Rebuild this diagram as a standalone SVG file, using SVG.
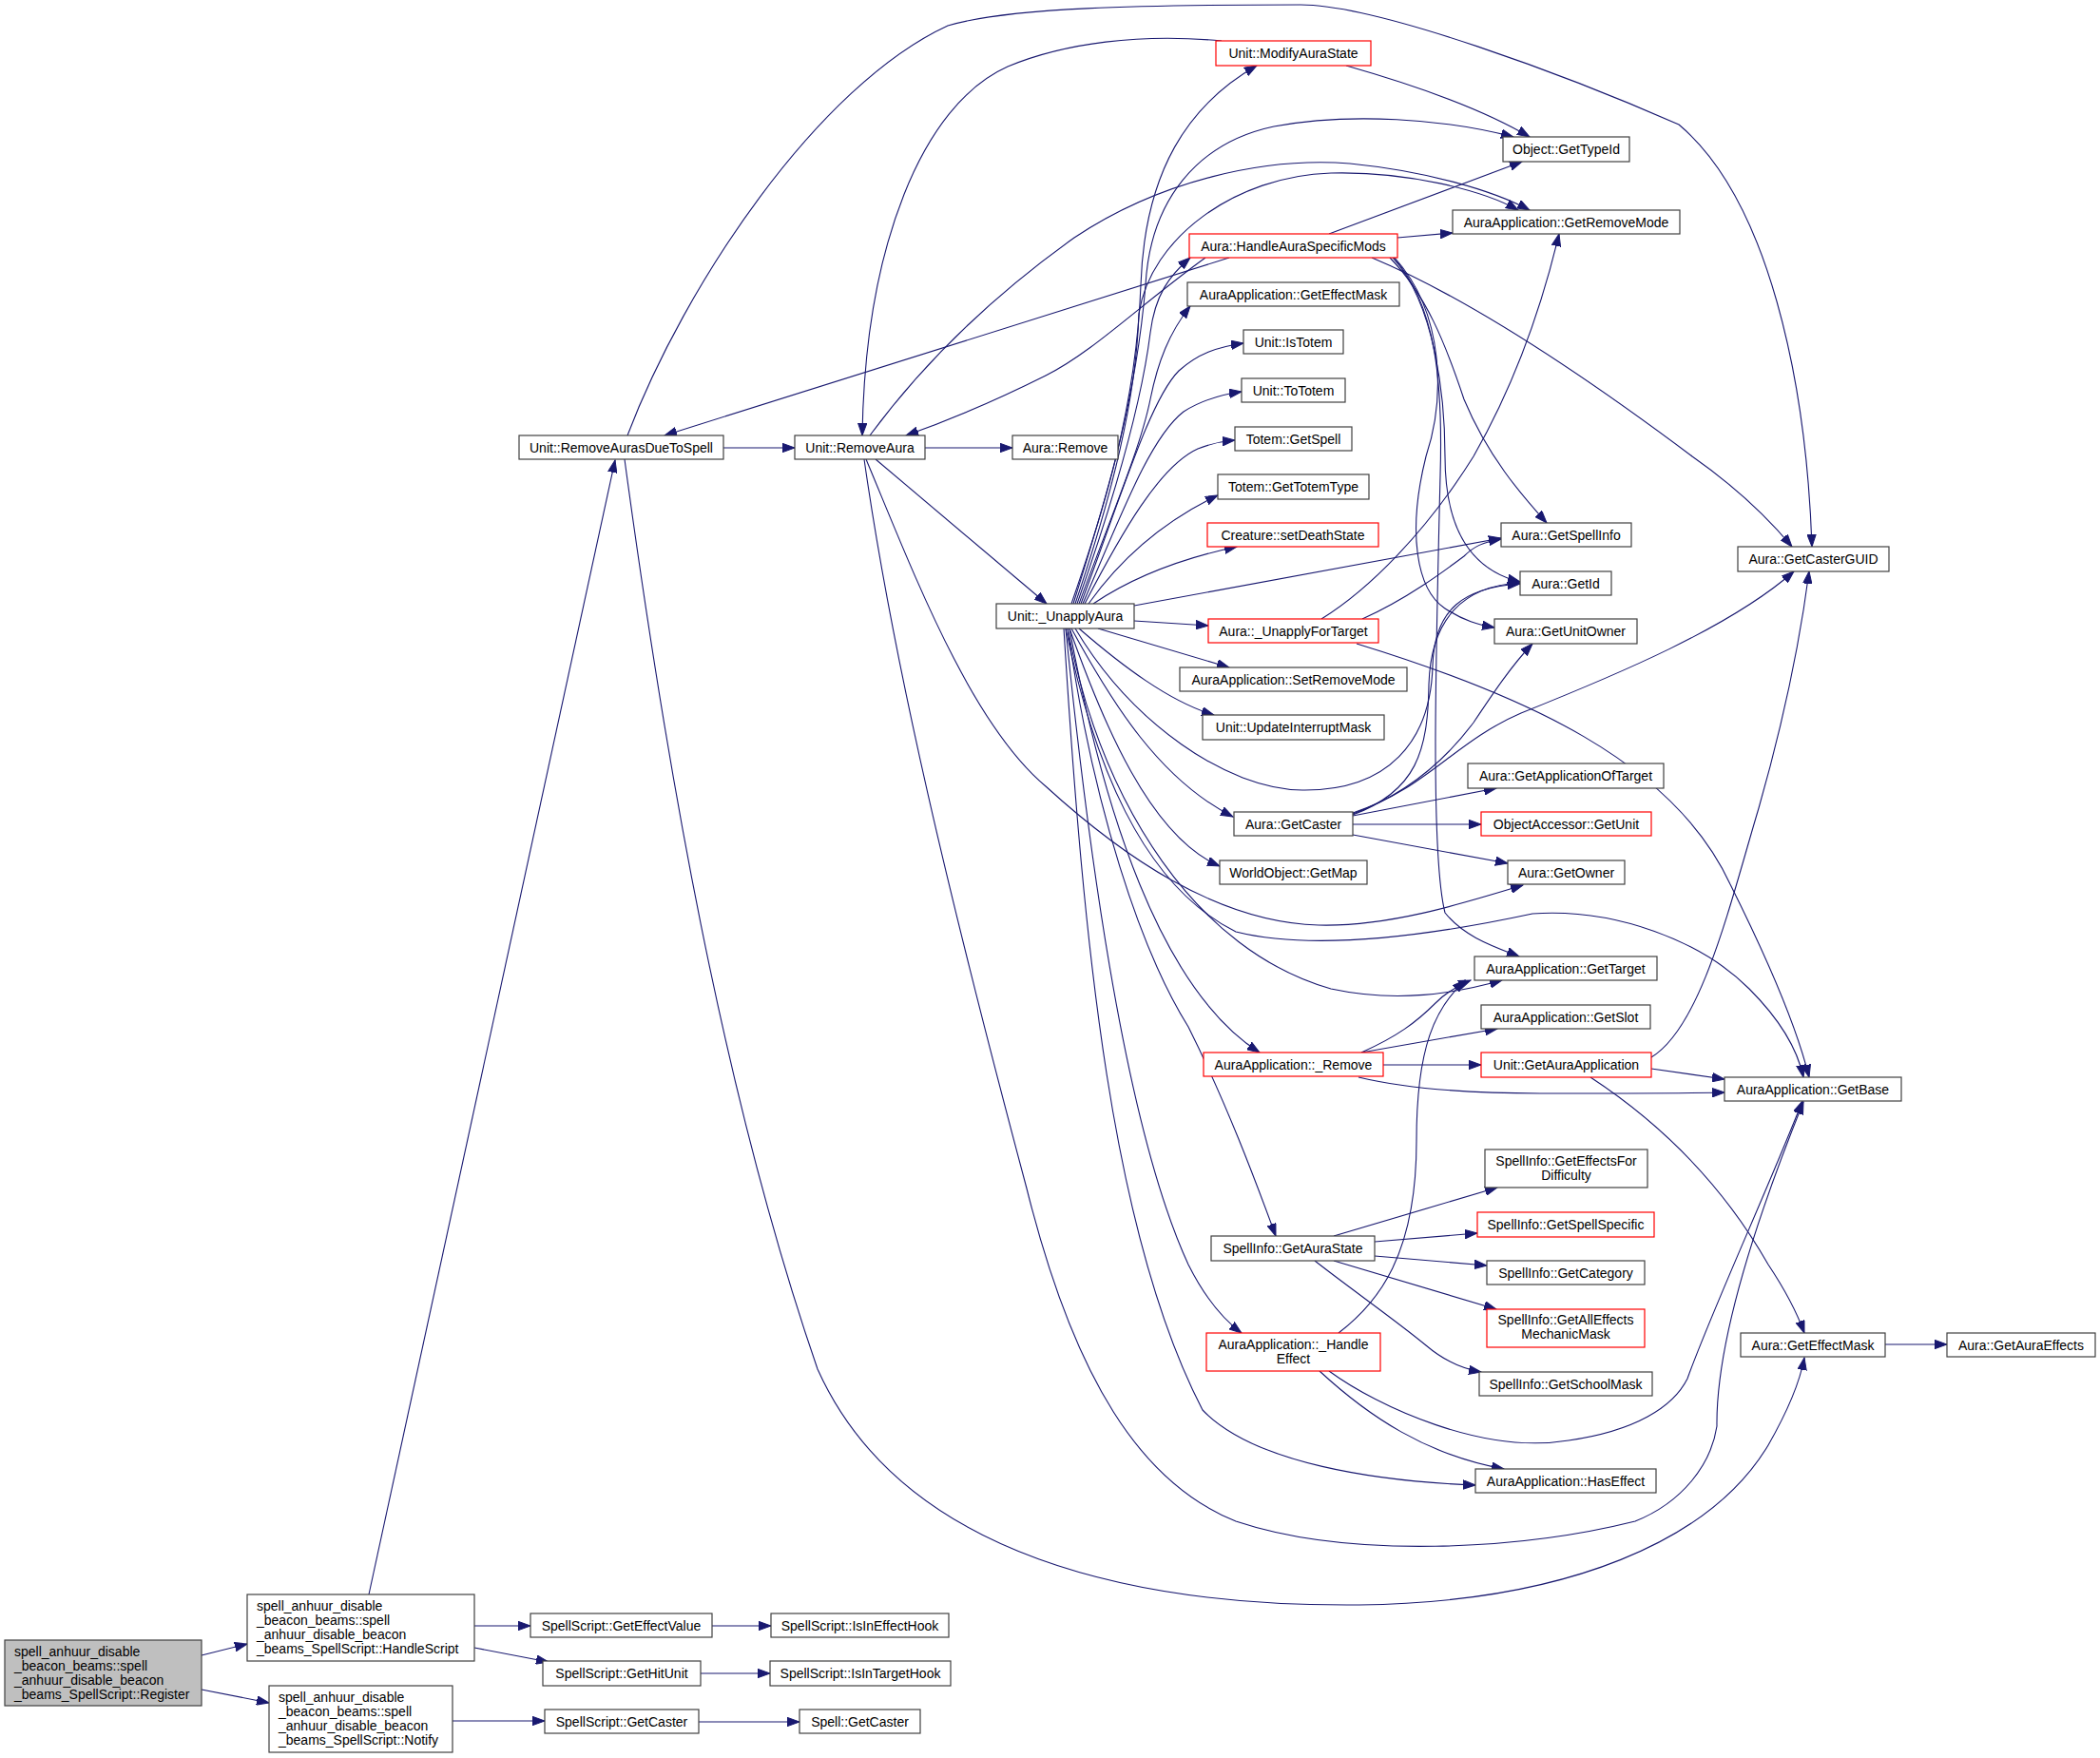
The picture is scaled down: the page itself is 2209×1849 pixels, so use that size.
<svg xmlns="http://www.w3.org/2000/svg" width="2209" height="1849" viewBox="0 0 2209 1849">
<defs>
<marker id="a" markerUnits="userSpaceOnUse" markerWidth="14" markerHeight="10" refX="13" refY="5" orient="auto" viewBox="0 0 14 10"><path d="M0,0.3 L13,5 L0,9.7 z" fill="#191970" stroke="#191970" stroke-width="1"/></marker>
</defs>
<style>
.n rect{fill:#fff;stroke:#404040;stroke-width:1.2}
.r rect{stroke:#ff0000}
.g rect{fill:#bfbfbf}
text{font-family:"Liberation Sans",Arial,sans-serif;font-size:14px;fill:#000}
.c{text-anchor:middle}
#edges path{fill:none;stroke:#191970;stroke-width:1.1;marker-end:url(#a)}
</style>
<rect width="2209" height="1849" fill="#fff"/>
<g id="edges">
<path d="M212,1741 L260,1729"/>
<path d="M212,1777 L283,1791"/>
<path d="M499,1710 L558,1710"/>
<path d="M499,1733 L577,1748"/>
<path d="M388,1677 L647,484"/>
<path d="M476,1810 L573,1810"/>
<path d="M749,1710 L811,1710"/>
<path d="M737,1760 L810,1760"/>
<path d="M735,1811 L841,1811"/>
<path d="M761,471 L836,471"/>
<path d="M660,458 C720,300 860,90 997,27 C1060,8 1200,5 1368,5 C1450,5 1650,80 1766,131 C1860,210 1900,400 1906,575"/>
<path d="M657,483 C700,800 760,1150 860,1440 C950,1640 1200,1690 1430,1688 C1650,1685 1800,1620 1860,1520 C1880,1485 1893,1455 1898,1428"/>
<path d="M973,471 L1065,471"/>
<path d="M921,483 L1101,635"/>
<path d="M915,458 C980,370 1060,300 1130,250 C1220,190 1330,165 1420,172 C1500,180 1570,200 1609,221"/>
<path d="M909,483 C940,700 1000,950 1080,1250 C1130,1450 1200,1560 1300,1600 C1420,1640 1600,1630 1720,1600 C1770,1580 1800,1540 1806,1500 C1805,1420 1840,1300 1897,1159"/>
<path d="M911,483 C960,600 1020,760 1100,827 C1180,900 1280,970 1387,973 C1460,975 1540,950 1602,931"/>
<path d="M1285,43 C1200,35 1120,45 1060,70 C970,110 910,260 907,458"/>
<path d="M1416,69 C1490,90 1560,115 1609,144"/>
<path d="M1293,271 L699,458"/>
<path d="M1268,271 C1200,320 1150,370 1100,395 C1040,425 990,445 953,458"/>
<path d="M1398,246 L1601,170"/>
<path d="M1470,250 L1528,245"/>
<path d="M1443,271 C1560,320 1700,420 1780,480 C1830,515 1860,545 1885,575"/>
<path d="M1462,271 C1500,310 1520,360 1540,420 C1565,480 1600,520 1627,550"/>
<path d="M1465,271 C1510,320 1520,420 1520,480 C1520,560 1550,600 1599,612"/>
<path d="M1467,271 C1520,330 1520,420 1500,480 C1480,560 1490,620 1520,640 C1540,653 1555,657 1572,660"/>
<path d="M1466,271 C1510,320 1518,400 1515,500 C1510,700 1505,900 1520,960 C1540,985 1570,995 1598,1006"/>
<path d="M1127,635 C1160,540 1195,430 1200,300 C1204,180 1250,110 1322,69"/>
<path d="M1129,635 C1165,520 1195,420 1205,300 C1210,210 1260,150 1340,133 C1420,118 1520,125 1592,144"/>
<path d="M1131,635 C1170,520 1195,420 1198,330 C1210,250 1300,185 1400,182 C1480,180 1560,200 1597,221"/>
<path d="M1133,635 C1170,530 1200,430 1210,350 C1215,310 1230,290 1252,271"/>
<path d="M1135,635 C1170,540 1200,470 1210,420 C1218,380 1230,350 1252,322"/>
<path d="M1137,635 C1180,520 1210,420 1240,390 C1260,372 1280,365 1308,361"/>
<path d="M1139,635 C1180,540 1210,460 1245,433 C1265,420 1285,415 1306,412"/>
<path d="M1141,635 C1180,560 1220,490 1260,472 C1275,466 1287,464 1299,463"/>
<path d="M1145,635 C1170,600 1210,555 1281,521"/>
<path d="M1150,635 C1190,608 1240,588 1301,575"/>
<path d="M1193,637 L1579,566"/>
<path d="M1193,653 L1271,658"/>
<path d="M1155,661 L1293,702"/>
<path d="M1135,661 C1180,700 1230,738 1277,752"/>
<path d="M1131,661 C1190,760 1290,830 1370,831 C1460,832 1505,780 1507,700 C1509,640 1540,618 1599,614"/>
<path d="M1127,661 C1170,740 1220,820 1297,859"/>
<path d="M1125,661 C1160,760 1210,880 1283,911"/>
<path d="M1123,661 C1160,850 1260,1000 1400,1040 C1470,1055 1530,1045 1580,1031"/>
<path d="M1121,661 C1150,800 1200,930 1300,980 C1380,1000 1500,985 1612,961 C1700,955 1790,990 1840,1040 C1870,1070 1890,1100 1897,1133"/>
<path d="M1125,661 C1160,850 1220,1040 1325,1107"/>
<path d="M1123,661 C1150,850 1200,1000 1250,1080 C1290,1160 1320,1240 1342,1300"/>
<path d="M1121,661 C1150,950 1190,1200 1250,1330 C1270,1370 1290,1390 1306,1402"/>
<path d="M1119,661 C1140,1000 1170,1300 1265,1483 C1320,1540 1450,1558 1552,1562"/>
<path d="M1390,651 C1440,620 1500,560 1550,480 C1590,410 1620,330 1640,246"/>
<path d="M1433,651 C1480,630 1520,600 1540,585 C1550,575 1560,570 1579,567"/>
<path d="M1427,677 C1600,730 1760,800 1820,930 C1860,1010 1890,1080 1903,1133"/>
<path d="M1423,858 L1574,829"/>
<path d="M1423,867 L1558,867"/>
<path d="M1423,878 L1586,908"/>
<path d="M1423,856 C1480,835 1520,800 1550,760 C1570,730 1590,700 1612,677"/>
<path d="M1423,855 C1500,830 1530,780 1600,750 C1700,710 1820,660 1887,601"/>
<path d="M1423,857 C1490,832 1502,790 1503,720 C1505,650 1540,616 1599,613"/>
<path d="M1432,1107 C1470,1090 1490,1075 1510,1055 C1520,1045 1530,1038 1547,1031"/>
<path d="M1432,1107 L1575,1082"/>
<path d="M1455,1120 L1558,1120"/>
<path d="M1429,1133 C1480,1145 1550,1150 1620,1150 C1700,1150 1760,1150 1814,1149"/>
<path d="M1737,1124 L1814,1135"/>
<path d="M1737,1112 C1790,1080 1820,950 1850,850 C1870,780 1890,700 1903,601"/>
<path d="M1673,1133 C1760,1190 1820,1260 1860,1330 C1880,1360 1890,1380 1898,1402"/>
<path d="M1403,1300 L1575,1249"/>
<path d="M1446,1306 L1554,1297"/>
<path d="M1446,1321 L1564,1331"/>
<path d="M1403,1326 L1574,1377"/>
<path d="M1383,1326 C1420,1355 1470,1390 1500,1415 C1520,1432 1540,1440 1558,1443"/>
<path d="M1408,1402 C1450,1370 1490,1320 1490,1200 C1490,1100 1510,1060 1541,1031"/>
<path d="M1398,1442 C1450,1480 1560,1530 1650,1515 C1720,1505 1760,1480 1775,1450 C1800,1380 1860,1250 1896,1158"/>
<path d="M1388,1442 C1440,1490 1500,1530 1582,1545"/>
<path d="M1983,1414 L2048,1414"/>
</g>
<g id="n_register" class="n g"><rect x="5" y="1725" width="207" height="69"/><text x="15" y="1742">spell_anhuur_disable</text><text x="15" y="1757">_beacon_beams::spell</text><text x="15" y="1772">_anhuur_disable_beacon</text><text x="15" y="1787">_beams_SpellScript::Register</text></g>
<g id="n_handlescript" class="n"><rect x="260" y="1677" width="239" height="70"/><text x="270" y="1694">spell_anhuur_disable</text><text x="270" y="1709">_beacon_beams::spell</text><text x="270" y="1724">_anhuur_disable_beacon</text><text x="270" y="1739">_beams_SpellScript::HandleScript</text></g>
<g id="n_notify" class="n"><rect x="283" y="1773" width="193" height="70"/><text x="293" y="1790">spell_anhuur_disable</text><text x="293" y="1805">_beacon_beams::spell</text><text x="293" y="1820">_anhuur_disable_beacon</text><text x="293" y="1835">_beams_SpellScript::Notify</text></g>
<g id="n_geteffectvalue" class="n"><rect x="558" y="1697" width="191" height="25"/><text class="c" x="653.5" y="1714.5">SpellScript::GetEffectValue</text></g>
<g id="n_isineffecthook" class="n"><rect x="811" y="1697" width="187" height="25"/><text class="c" x="904.5" y="1714.5">SpellScript::IsInEffectHook</text></g>
<g id="n_gethitunit" class="n"><rect x="571" y="1747" width="166" height="26"/><text class="c" x="654" y="1765">SpellScript::GetHitUnit</text></g>
<g id="n_isintargethook" class="n"><rect x="810" y="1747" width="190" height="26"/><text class="c" x="905" y="1765">SpellScript::IsInTargetHook</text></g>
<g id="n_ssgetcaster" class="n"><rect x="573" y="1798" width="162" height="25"/><text class="c" x="654" y="1815.5">SpellScript::GetCaster</text></g>
<g id="n_spellgetcaster" class="n"><rect x="841" y="1798" width="127" height="25"/><text class="c" x="904.5" y="1815.5">Spell::GetCaster</text></g>
<g id="n_removeaurasduetospell" class="n"><rect x="546" y="458" width="215" height="25"/><text class="c" x="653.5" y="475.5">Unit::RemoveAurasDueToSpell</text></g>
<g id="n_removeaura" class="n"><rect x="836" y="458" width="137" height="25"/><text class="c" x="904.5" y="475.5">Unit::RemoveAura</text></g>
<g id="n_auraremove" class="n"><rect x="1065" y="458" width="111" height="25"/><text class="c" x="1120.5" y="475.5">Aura::Remove</text></g>
<g id="n_unapplyaura" class="n"><rect x="1048" y="635" width="145" height="26"/><text class="c" x="1120.5" y="653">Unit::_UnapplyAura</text></g>
<g id="n_modifyaurastate" class="n r"><rect x="1279" y="43" width="163" height="26"/><text class="c" x="1360.5" y="61">Unit::ModifyAuraState</text></g>
<g id="n_handleauraspecificmods" class="n r"><rect x="1251" y="246" width="219" height="25"/><text class="c" x="1360.5" y="263.5">Aura::HandleAuraSpecificMods</text></g>
<g id="n_aageteffectmask" class="n"><rect x="1249" y="297" width="223" height="25"/><text class="c" x="1360.5" y="314.5">AuraApplication::GetEffectMask</text></g>
<g id="n_istotem" class="n"><rect x="1308" y="347" width="105" height="25"/><text class="c" x="1360.5" y="364.5">Unit::IsTotem</text></g>
<g id="n_tototem" class="n"><rect x="1306" y="398" width="109" height="25"/><text class="c" x="1360.5" y="415.5">Unit::ToTotem</text></g>
<g id="n_totemgetspell" class="n"><rect x="1299" y="449" width="123" height="25"/><text class="c" x="1360.5" y="466.5">Totem::GetSpell</text></g>
<g id="n_gettotemtype" class="n"><rect x="1281" y="499" width="159" height="26"/><text class="c" x="1360.5" y="517">Totem::GetTotemType</text></g>
<g id="n_setdeathstate" class="n r"><rect x="1270" y="550" width="180" height="25"/><text class="c" x="1360" y="567.5">Creature::setDeathState</text></g>
<g id="n_unapplyfortarget" class="n r"><rect x="1271" y="651" width="179" height="25"/><text class="c" x="1360.5" y="668.5">Aura::_UnapplyForTarget</text></g>
<g id="n_setremovemode" class="n"><rect x="1241" y="702" width="239" height="25"/><text class="c" x="1360.5" y="719.5">AuraApplication::SetRemoveMode</text></g>
<g id="n_updateinterruptmask" class="n"><rect x="1265" y="752" width="191" height="26"/><text class="c" x="1360.5" y="770">Unit::UpdateInterruptMask</text></g>
<g id="n_auragetcaster" class="n"><rect x="1298" y="854" width="125" height="25"/><text class="c" x="1360.5" y="871.5">Aura::GetCaster</text></g>
<g id="n_getmap" class="n"><rect x="1283" y="905" width="155" height="25"/><text class="c" x="1360.5" y="922.5">WorldObject::GetMap</text></g>
<g id="n_aaremove" class="n r"><rect x="1266" y="1107" width="189" height="25"/><text class="c" x="1360.5" y="1124.5">AuraApplication::_Remove</text></g>
<g id="n_getaurastate" class="n"><rect x="1274" y="1300" width="172" height="26"/><text class="c" x="1360" y="1318">SpellInfo::GetAuraState</text></g>
<g id="n_handleeffect" class="n r"><rect x="1269" y="1402" width="183" height="40"/><text class="c" x="1360.5" y="1419">AuraApplication::_Handle</text><text class="c" x="1360.5" y="1434">Effect</text></g>
<g id="n_gettypeid" class="n"><rect x="1581" y="144" width="133" height="26"/><text class="c" x="1647.5" y="162">Object::GetTypeId</text></g>
<g id="n_getremovemode" class="n"><rect x="1528" y="221" width="239" height="25"/><text class="c" x="1647.5" y="238.5">AuraApplication::GetRemoveMode</text></g>
<g id="n_getspellinfo" class="n"><rect x="1579" y="550" width="137" height="25"/><text class="c" x="1647.5" y="567.5">Aura::GetSpellInfo</text></g>
<g id="n_getid" class="n"><rect x="1599" y="601" width="96" height="25"/><text class="c" x="1647" y="618.5">Aura::GetId</text></g>
<g id="n_getunitowner" class="n"><rect x="1572" y="651" width="150" height="26"/><text class="c" x="1647" y="669">Aura::GetUnitOwner</text></g>
<g id="n_getapplicationoftarget" class="n"><rect x="1544" y="803" width="206" height="26"/><text class="c" x="1647" y="821">Aura::GetApplicationOfTarget</text></g>
<g id="n_oagetunit" class="n r"><rect x="1558" y="854" width="179" height="25"/><text class="c" x="1647.5" y="871.5">ObjectAccessor::GetUnit</text></g>
<g id="n_getowner" class="n"><rect x="1586" y="905" width="123" height="25"/><text class="c" x="1647.5" y="922.5">Aura::GetOwner</text></g>
<g id="n_gettarget" class="n"><rect x="1551" y="1006" width="192" height="25"/><text class="c" x="1647" y="1023.5">AuraApplication::GetTarget</text></g>
<g id="n_getslot" class="n"><rect x="1558" y="1057" width="178" height="25"/><text class="c" x="1647" y="1074.5">AuraApplication::GetSlot</text></g>
<g id="n_getauraapplication" class="n r"><rect x="1558" y="1107" width="179" height="26"/><text class="c" x="1647.5" y="1125">Unit::GetAuraApplication</text></g>
<g id="n_geteffectsfordifficulty" class="n"><rect x="1562" y="1209" width="171" height="40"/><text class="c" x="1647.5" y="1225.5">SpellInfo::GetEffectsFor</text><text class="c" x="1647.5" y="1240.5">Difficulty</text></g>
<g id="n_getspellspecific" class="n r"><rect x="1554" y="1275" width="186" height="26"/><text class="c" x="1647" y="1293">SpellInfo::GetSpellSpecific</text></g>
<g id="n_getcategory" class="n"><rect x="1564" y="1326" width="166" height="25"/><text class="c" x="1647" y="1343.5">SpellInfo::GetCategory</text></g>
<g id="n_getalleffectsmechanicmask" class="n r"><rect x="1564" y="1377" width="166" height="40"/><text class="c" x="1647" y="1393">SpellInfo::GetAllEffects</text><text class="c" x="1647" y="1408">MechanicMask</text></g>
<g id="n_getschoolmask" class="n"><rect x="1556" y="1443" width="182" height="25"/><text class="c" x="1647" y="1460.5">SpellInfo::GetSchoolMask</text></g>
<g id="n_haseffect" class="n"><rect x="1552" y="1545" width="190" height="25"/><text class="c" x="1647" y="1562.5">AuraApplication::HasEffect</text></g>
<g id="n_getcasterguid" class="n"><rect x="1828" y="575" width="159" height="26"/><text class="c" x="1907.5" y="593">Aura::GetCasterGUID</text></g>
<g id="n_getbase" class="n"><rect x="1814" y="1133" width="186" height="25"/><text class="c" x="1907" y="1150.5">AuraApplication::GetBase</text></g>
<g id="n_aurageteffectmask" class="n"><rect x="1831" y="1402" width="152" height="25"/><text class="c" x="1907" y="1419.5">Aura::GetEffectMask</text></g>
<g id="n_getauraeffects" class="n"><rect x="2048" y="1402" width="156" height="25"/><text class="c" x="2126" y="1419.5">Aura::GetAuraEffects</text></g>
</svg>
